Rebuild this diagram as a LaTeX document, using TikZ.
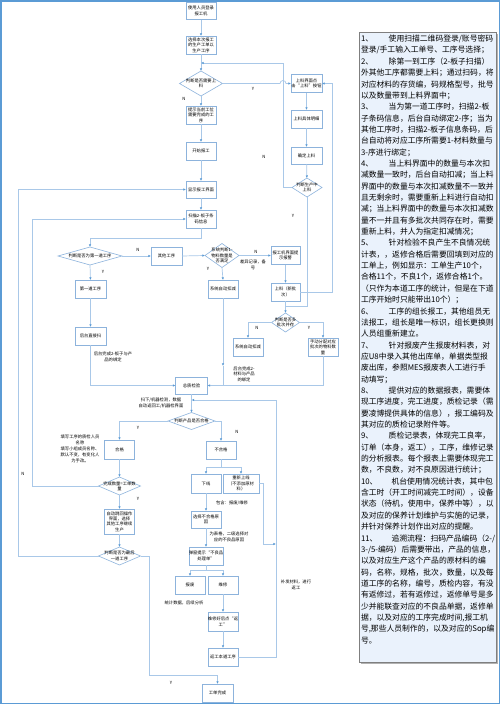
\documentclass[tikz,border=0pt]{standalone}
\usepackage{fontspec}
\setmainfont{Noto Sans CJK SC}
\usetikzlibrary{arrows.meta,shapes.geometric,shadows}
\definecolor{frameblue}{HTML}{5B9BD5}
\definecolor{linec}{HTML}{A9C8E8}
\definecolor{boxc}{HTML}{8DB3DC}
\definecolor{arrc}{HTML}{5B9BD5}
\definecolor{panelfill}{HTML}{EAF2FC}
\definecolor{panelline}{HTML}{7F7F7F}
\begin{document}
\begin{tikzpicture}[x=1pt,y=-1pt,
  every node/.style={font=\fontsize{4.3}{5.4}\selectfont, inner sep=0pt, outer sep=0pt},
  box/.style={draw=boxc, line width=0.6pt, fill=white, minimum width=30pt, minimum height=18pt, align=center,
    drop shadow={shadow xshift=0.8pt, shadow yshift=-0.8pt, fill=black!30, opacity=0.5}},
  dia/.style={diamond, draw=boxc, line width=0.6pt, fill=white},
  ln/.style={draw=linec, line width=0.7pt},
  arr/.style={ln, -{Latex[length=2.6pt,width=2.4pt,color=arrc]}},
  lbl/.style={align=center},
  lbls/.style={align=center, font=\fontsize{4.3}{6}\selectfont}
]
\useasboundingbox (0,0) rectangle (500,704);
\fill[white] (0,0) rectangle (500,704);
\draw[frameblue, line width=1.5pt] (0.75,0.75) rectangle (499.25,703.25);

% ---------- text panel ----------
\fill[black!30] (360.5,33.5) rectangle (498,663.5);
\draw[panelline, fill=panelfill, line width=0.5pt] (359,32) rectangle (496.5,662);
\node[anchor=north west, align=left, font=\fontsize{7.8}{11.35}\selectfont] (ptext) at (361,35) {%
1、\hspace{2em}使用扫描二维码登录/账号密码\\
登录/手工输入工单号、工序号选择；\\
2、\hspace{2em}除第一到工序（2-板子扫描）\\
外其他工序都需要上料；通过扫码，将\\
对应材料的存货编，码规格型号，批号\\
以及数量带到上料界面中；\\
3、\hspace{2em}当为第一道工序时，扫描2-板\\
子条码信息，后台自动绑定2-序；当为\\
其他工序时，扫描2-板子信息条码，后\\
台自动将对应工序所需要1-材料数量与\\
3-序进行绑定；\\
4、\hspace{2em}当上料界面中的数量与本次扣\\
减数量一致时，后台自动扣减；当上料\\
界面中的数量与本次扣减数量不一致并\\
且无剩余时，需要重新上料进行自动扣\\
减；当上料界面中的数量与本次扣减数\\
量不一并且有多批次共同存在时，需要\\
重新上料，并人为指定扣减情况；\\
5、\hspace{2em}针对检验不良产生不良情况统\\
计表，，返修合格后需要回填到对应的\\
工单上，例如显示：工单生产10个，\\
合格11个，不良1个，返修合格1个。\\
（只作为本道工序的统计，但是在下道\\
工序开始时只能带出10个）；\\
6、\hspace{2em}工序的组长报工，其他组员无\\
法报工，组长是唯一标识，组长更换则\\
人员组重新建立。\\
7、\hspace{2em}针对报废产生报废材料表，对\\
应U8中录入其他出库单，单据类型报\\
废出库，参照MES报废表人工进行手\\
动填写；\\
8、\hspace{2em}提供对应的数据报表，需要体\\
现工序进度，完工进度，质检记录（需\\
要凌博提供具体的信息），报工编码及\\
其对应的质检记录附件等。\\
9、\hspace{2em}质检记录表，体现完工良率，\\
订单（本身，返工），工序，维修记录\\
的分析报表。每个报表上需要体现完工\\
数，不良数，对不良原因进行统计；\\
10、\hspace{1.8em}机台使用情况统计表，其中包\\
含工时（开工时间减完工时间），设备\\
状态（待机，使用中，保养中等），以\\
及对应的保养计划维护与实施的记录，\\
并针对保养计划作出对应的提醒。\\
11、\hspace{1.8em}追溯流程：扫码产品编码（2-/\\
3-/5-编码）后需要带出，产品的信息，\\
以及对应生产这个产品的原材料的编\\
码，名称，规格，批次，数量，以及每\\
道工序的名称，编号，质检内容，有没\\
有返修过，若有返修过，返修单号是多\\
少并能联查对应的不良品单据，返修单\\
据，以及对应的工序完成时间,报工机\\
号,那些人员制作的，以及对应的Sop编\\
号。};

% ---------- main column ----------
\node[box, minimum height=17pt] (n1) at (201,11) {使用人员登录\\报工机};
\node[box] (n2) at (201,45) {选择本次报工\\的生产工单以\\生产工序};
\node[dia, minimum width=43pt, minimum height=25pt] (d1) at (201,83.5) {};
\node[lbl] (d1t) at (201,83.5) {判断是否需要上\\料};
\node[box] (n3) at (201,115) {提示当前工位\\需要完成的工\\序};
\node[box] (n4) at (201,151) {开始报工};
\node[box, minimum height=17pt] (n5) at (201,189.5) {显示报工界面};
\node[box] (n6) at (201,219) {扫描2-板子条\\码信息};

% ---------- feeding column ----------
\node[box, minimum width=31pt] (u1) at (306.5,83.5) {上料界面点\\击“上料”按钮};
\node[box, minimum width=31pt] (u2) at (306.5,119) {上料具体明细};
\node[box, minimum width=31pt, minimum height=17pt] (u3) at (306.5,155.5) {确定上料};
\node[dia, minimum width=30pt, minimum height=19pt] (d8) at (307,187.5) {};
\node[lbl] (d8t) at (307,187.5) {判断生产中\\上料};

% ---------- middle part ----------
\node[dia, minimum width=64pt, minimum height=18pt] (d2) at (90,256) {};
\node[lbl] (d2t) at (90,256) {判断是否为第一道工序};
\node[box, minimum width=31pt] (n7) at (166.5,256) {其他工序};
\node[dia, minimum width=34pt, minimum height=24pt] (d3) at (222,255.5) {};
\node[lbl] (d3t) at (222,255.5) {系统判断1-\\物料数量是\\否满足};
\node[box] (n8) at (223,289) {系统自动扣减};
\node[box, minimum width=29pt] (n9) at (285.5,255.5) {报工机界面提\\示报警};
\node[box, minimum width=29pt] (n10) at (285.5,292) {上料（新批\\次）};
\node[dia, minimum width=28pt, minimum height=19pt] (d4) at (285.5,322.5) {};
\node[lbl] (d4t) at (285.5,322.5) {判断是否多\\批次并存};
\node[box] (n11) at (248,347) {系统自动扣减};
\node[box] (n12) at (323,347) {手动分配对应\\批次的物料数\\量};
\node[box, minimum width=31pt] (n13) at (90.5,289) {第一道工序};
\node[box, minimum width=31pt] (n14) at (90.5,336) {后台直接扫};
\node[box, minimum width=32pt, minimum height=17pt] (n15) at (191.5,385.5) {总质检验};

% ---------- quality check ----------
\node[dia, minimum width=47pt, minimum height=17pt] (d5) at (191.5,421) {};
\node[lbl] (d5t) at (191.5,421) {判断产品是否合格};
\node[box, minimum height=19pt] (n16) at (119.5,449.5) {合格};
\node[box] (n17) at (221,450) {不合格};
\node[dia, minimum width=42pt, minimum height=18pt] (d6) at (119.5,486) {};
\node[lbl] (d6t) at (119.5,486) {完成数量=工单数\\量};
\node[box, minimum height=25pt] (n18) at (119.5,521.5) {自动跳回操作\\界面，选择\\其他工序继续\\生产};
\node[dia, minimum width=42pt, minimum height=18pt] (d7) at (119.5,556) {};
\node[lbl] (d7t) at (119.5,556) {判断是否为最后\\一道工序};
\node[box, minimum width=31pt] (n19) at (217.5,693) {工单完成};
\node[box, minimum height=19pt] (n20) at (206,483.5) {下线};
\node[box, minimum width=36pt, minimum height=19pt] (n21) at (241,483.5) {重新上线\\（不添加原材\\料）};
\node[box, minimum height=17pt] (n22) at (206,519.5) {选择不合格原\\因};
\node[box] (n23) at (206,556) {弹窗提示“不良品\\处理单”};
\node[box] (n24) at (190,585) {报废};
\node[box] (n25) at (223,585) {维修};
\node[box, minimum height=19pt] (n26) at (223,621.5) {维修好后点“返\\工”};
\node[box] (n27) at (223,657) {返工本道工序};

% ---------- connectors ----------
\draw[arr] (n1) -- (n2);
\draw[arr] (n2) -- (d1);
\draw[arr] (d1.east) -- (280,83.5) arc[start angle=180, end angle=360, radius=3] -- (u1.west);
\node (lY1) at (253,89) {Y};
\draw[arr] (d1.south) -- (n3.north);
\node (lN1) at (184,99) {N};
\draw[arr] (n3) -- (n4);
\draw[arr] (n4) -- (n5);
\draw[arr] (n5) -- (n6);
\draw[arr] (u1) -- (u2);
\draw[arr] (u2) -- (u3);
\draw[arr] (u3) -- (d8);
\coordinate (c63) at (201,63);
\draw[arr] (d8.west) -- (283,187.5) -- (283,63) -- (c63);
\node (lN2) at (264,157) {N};
\draw[ln] (d8.south) -- (307,306) -- (285.5,306);
\node (lY2) at (293,216) {Y};
\draw[arr] (n10.east) -- (332,292) -- (332,83.5) -- (u1.east);
\draw[arr] (n6.south) -- (201,238) -- (90,238) -- (d2.north);
\draw[arr] (d2.east) -- (n7.west);
\node (lN3) at (138,250) {N};
\draw[arr] (n7.east) -- (d3.west);
\draw[arr] (d3.south) -- (223,280);
\node (lY3) at (208,269) {Y};
\draw[arr] (d3.east) -- (n9.west);
\node (lN4) at (256,252) {N};
\node[lbl] (ldiff) at (253,265) {差异记录，备\\号};
\draw[arr] (n9) -- (n10);
\draw[arr] (n10) -- (d4);
\draw[arr] (d4.west) -- (248,322.5) -- (n11.north);
\node (lN5) at (257,328) {N};
\draw[arr] (d4.east) -- (323,322.5) -- (n12.north);
\node (lY5) at (309,328) {Y};
\draw[arr] (n12.south) -- (323,385.5) -- (n15.east);
\coordinate (c366) at (223,366);
\draw[arr] (n8.south) -- (c366);
\draw[ln] (c366) -- (223,385.5);
\node[lbl] (lmat) at (244,374) {后台完成2-\\材料与产品\\的绑定};
\draw[arr] (d2.south) -- (n13.north);
\node (lY6) at (103,272) {Y};
\draw[arr] (n13) -- (n14);
\draw[arr] (n14.south) -- (90.5,385.5) -- (n15.west);
\node[lbls] (lboard) at (113,356.5) {后台完成2-板子与产\\品的绑定};
\draw[arr] (n15) -- (d5);
\node[lbls] (lscan) at (161,403) {扫下/机器检测，数据\\自动返回工/机器检界面};
\coordinate (c400) at (191.5,400);
\draw[arr] (n27.east) -- (276,657) -- (276,400) -- (c400);
\node[lbls] (lrew) at (296,585) {补发材料，进行\\返工};
\draw[arr] (d5.west) -- (119.5,421) -- (n16.north);
\node (lY7) at (138,428) {Y};
\draw[arr] (d5.east) -- (221,421) -- (n17.north);
\node (lN7) at (237,432) {N};
\node[lbls] (lqc) at (80,449) {填写工序的质检人员\\名称\\填写小组成员名称、\\默认不变，有变化人\\为手改。};
\draw[arr] (n16) -- (d6);
\draw[arr] (d6.west) -- (32,486) -- (32,219) -- (n6.west);
\node (lN8) at (23,474) {N};
\draw[arr] (d6.south) -- (n18.north);
\node (lY8) at (138,499) {Y};
\draw[arr] (n18) -- (d7);
\draw[arr] (d7.west) -- (18,556) -- (18,189.5) -- (n5.west);
\draw[arr] (d7.east) -- (149,556) -- (149,675) -- (217.5,675) -- (n19.north);
\node (lY9) at (171,683) {Y};
\draw[ln] (n17.south) -- (221,467);
\draw[ln] (206,467) -- (241,467);
\draw[arr] (206,467) -- (n20.north);
\draw[arr] (241,467) -- (n21.north);
\coordinate (c544) at (276,544);
\draw[arr] (n21.east) -- (263,483.5) -- (263,544) -- (c544);
\draw[arr] (n20) -- (n22);
\node (linc) at (232,503) {包含：报废/维修};
\draw[arr] (n22) -- (n23);
\node[lbls] (lreason) at (229,537) {为表格，二级选择对\\应的不良品原因};
\draw[ln] (n23.south) -- (206,570);
\draw[ln] (190,570) -- (223,570);
\draw[arr] (190,570) -- (n24.north);
\draw[arr] (223,570) -- (n25.north);
\node (lstat) at (184,603) {统计数据，后续分析};
\draw[arr] (n25) -- (n26);
\draw[arr] (n26) -- (n27);
\end{tikzpicture}
\end{document}
